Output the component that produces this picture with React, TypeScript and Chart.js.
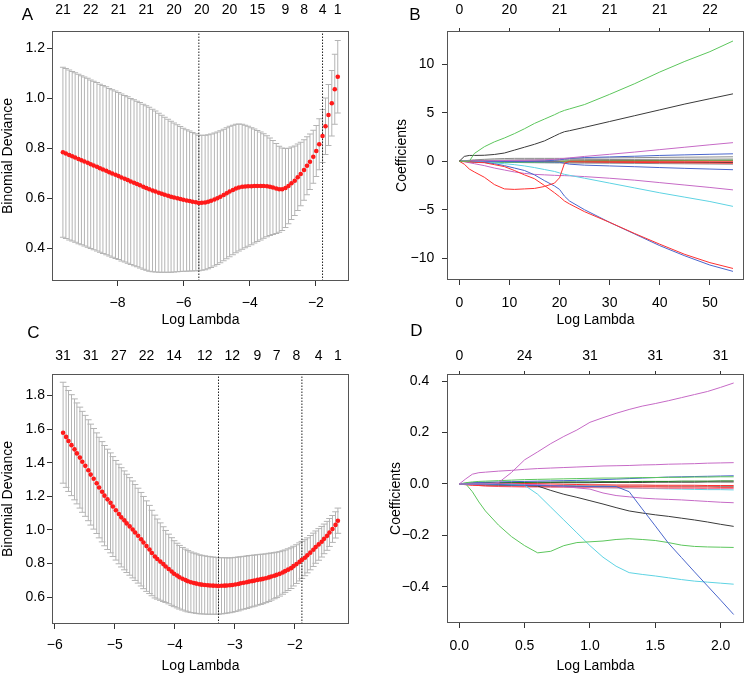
import React, { useEffect, useRef } from "react";
import { Chart, registerables } from "chart.js";

Chart.register(...registerables);

const FONT = "'Liberation Sans', Arial, Helvetica, sans-serif";
Chart.defaults.font.family = FONT;
Chart.defaults.color = "#000";

// ================= Panel A: CV binomial deviance =================
const A_LOG_LAMBDA = [
  -9.65, -9.56, -9.46, -9.37, -9.28, -9.18, -9.09, -9.0, -8.9, -8.81,
  -8.72, -8.62, -8.53, -8.44, -8.34, -8.25, -8.16, -8.06, -7.97, -7.88,
  -7.78, -7.69, -7.6, -7.5, -7.41, -7.32, -7.22, -7.13, -7.04, -6.94,
  -6.85, -6.75, -6.66, -6.57, -6.47, -6.38, -6.29, -6.19, -6.1, -6.01,
  -5.91, -5.82, -5.73, -5.63, -5.54, -5.45, -5.35, -5.26, -5.17, -5.07,
  -4.98, -4.89, -4.79, -4.7, -4.61, -4.51, -4.42, -4.33, -4.23, -4.14,
  -4.05, -3.95, -3.86, -3.77, -3.67, -3.58, -3.48, -3.39, -3.3, -3.2,
  -3.11, -3.02, -2.92, -2.83, -2.74, -2.64, -2.55, -2.46, -2.36, -2.27,
  -2.18, -2.08, -1.99, -1.9, -1.8, -1.71, -1.62, -1.52, -1.43, -1.34,
];
const A_CVM = [
  0.783, 0.778, 0.772, 0.767, 0.762, 0.756, 0.751, 0.746, 0.741, 0.735,
  0.73, 0.725, 0.719, 0.714, 0.709, 0.703, 0.698, 0.693, 0.688, 0.682,
  0.677, 0.672, 0.666, 0.661, 0.656, 0.651, 0.645, 0.64, 0.635, 0.63,
  0.626, 0.621, 0.617, 0.613, 0.609, 0.605, 0.602, 0.599, 0.596, 0.593,
  0.59, 0.588, 0.585, 0.583, 0.58, 0.581, 0.582, 0.585, 0.589, 0.594,
  0.599, 0.605, 0.612, 0.619, 0.626, 0.632, 0.638, 0.642, 0.645, 0.646,
  0.647, 0.647, 0.648, 0.648, 0.648, 0.648, 0.647, 0.645, 0.642, 0.638,
  0.635, 0.635, 0.64, 0.648, 0.659, 0.669, 0.683, 0.696, 0.712, 0.729,
  0.745, 0.765, 0.788, 0.815, 0.848, 0.887, 0.932, 0.979, 1.035, 1.085,
];
const A_CVSD = [
  0.34, 0.34, 0.34, 0.339, 0.339, 0.339, 0.338, 0.338, 0.338, 0.337,
  0.337, 0.337, 0.336, 0.336, 0.336, 0.335, 0.335, 0.335, 0.334, 0.334,
  0.333, 0.333, 0.332, 0.332, 0.331, 0.331, 0.33, 0.329, 0.328, 0.325,
  0.322, 0.318, 0.314, 0.31, 0.306, 0.302, 0.298, 0.294, 0.29, 0.286,
  0.283, 0.28, 0.277, 0.274, 0.271, 0.27, 0.269, 0.268, 0.267, 0.266,
  0.265, 0.264, 0.263, 0.262, 0.261, 0.259, 0.257, 0.254, 0.25, 0.245,
  0.24, 0.234, 0.228, 0.222, 0.216, 0.209, 0.202, 0.195, 0.188, 0.18,
  0.172, 0.165, 0.158, 0.151, 0.145, 0.139, 0.133, 0.127, 0.121, 0.116,
  0.111, 0.106, 0.102, 0.102, 0.106, 0.113, 0.122, 0.131, 0.14, 0.145,
];
const A_LAMBDA_MIN = -5.54;
const A_LAMBDA_1SE = -1.8;
const A_TOP_AT = [-9.65, -8.81, -7.97, -7.13, -6.29, -5.45, -4.61, -3.77, -2.92, -2.36, -1.8, -1.34];
const A_TOP_LABELS = ["21", "22", "21", "21", "20", "20", "20", "15", "9", "8", "4", "1"];
const A_X_TICKS = [-8, -6, -4, -2];
const A_Y_TICKS = [0.4, 0.6, 0.8, 1.0, 1.2];

// ================= Panel C: CV binomial deviance =================
const C_LOG_LAMBDA = [
  -5.86, -5.81, -5.77, -5.72, -5.67, -5.63, -5.58, -5.54, -5.49, -5.44,
  -5.4, -5.35, -5.3, -5.26, -5.21, -5.17, -5.12, -5.07, -5.03, -4.98,
  -4.93, -4.89, -4.84, -4.8, -4.75, -4.7, -4.66, -4.61, -4.56, -4.52,
  -4.47, -4.42, -4.38, -4.33, -4.29, -4.24, -4.19, -4.15, -4.1, -4.05,
  -4.01, -3.96, -3.92, -3.87, -3.82, -3.78, -3.73, -3.68, -3.64, -3.59,
  -3.55, -3.5, -3.45, -3.41, -3.36, -3.31, -3.27, -3.22, -3.17, -3.13,
  -3.08, -3.04, -2.99, -2.94, -2.9, -2.85, -2.8, -2.76, -2.71, -2.67,
  -2.62, -2.57, -2.53, -2.48, -2.43, -2.39, -2.34, -2.3, -2.25, -2.2,
  -2.16, -2.11, -2.06, -2.02, -1.97, -1.92, -1.88, -1.83, -1.79, -1.74,
  -1.69, -1.65, -1.6, -1.55, -1.51, -1.46, -1.42, -1.37, -1.32, -1.28,
];
const C_CVM = [
  1.578, 1.553, 1.529, 1.504, 1.479, 1.455, 1.43, 1.405, 1.381, 1.355,
  1.329, 1.304, 1.278, 1.252, 1.227, 1.204, 1.182, 1.161, 1.139, 1.117,
  1.095, 1.075, 1.057, 1.039, 1.021, 1.003, 0.985, 0.966, 0.945, 0.925,
  0.904, 0.884, 0.863, 0.842, 0.827, 0.812, 0.797, 0.783, 0.768, 0.753,
  0.74, 0.729, 0.719, 0.71, 0.702, 0.695, 0.689, 0.685, 0.681, 0.677,
  0.675, 0.673, 0.671, 0.67, 0.669, 0.668, 0.667, 0.668, 0.669, 0.67,
  0.671, 0.673, 0.676, 0.679, 0.683, 0.686, 0.689, 0.693, 0.696, 0.699,
  0.703, 0.706, 0.709, 0.713, 0.718, 0.723, 0.728, 0.733, 0.739, 0.747,
  0.755, 0.764, 0.773, 0.785, 0.797, 0.81, 0.822, 0.835, 0.849, 0.865,
  0.882, 0.898, 0.914, 0.93, 0.947, 0.965, 0.985, 1.006, 1.03, 1.055,
];
const C_CVSD = [
  0.3, 0.3, 0.3, 0.3, 0.3, 0.3, 0.3, 0.3, 0.3, 0.3,
  0.3, 0.299, 0.299, 0.299, 0.298, 0.298, 0.298, 0.297, 0.297, 0.296,
  0.296, 0.295, 0.294, 0.292, 0.29, 0.288, 0.285, 0.282, 0.278, 0.274,
  0.269, 0.262, 0.254, 0.246, 0.238, 0.23, 0.222, 0.214, 0.207, 0.201,
  0.196, 0.192, 0.189, 0.186, 0.184, 0.182, 0.18, 0.178, 0.177, 0.175,
  0.174, 0.173, 0.172, 0.171, 0.17, 0.169, 0.168, 0.167, 0.166, 0.164,
  0.163, 0.162, 0.161, 0.16, 0.158, 0.157, 0.156, 0.155, 0.153, 0.152,
  0.15, 0.149, 0.147, 0.145, 0.143, 0.14, 0.137, 0.135, 0.132, 0.129,
  0.126, 0.124, 0.121, 0.118, 0.115, 0.113, 0.11, 0.107, 0.104, 0.102,
  0.099, 0.096, 0.094, 0.091, 0.088, 0.086, 0.083, 0.08, 0.078, 0.075,
];
const C_LAMBDA_MIN = -3.27;
const C_LAMBDA_1SE = -1.88;
const C_TOP_AT = [-5.86, -5.4, -4.93, -4.47, -4.01, -3.5, -3.04, -2.62, -2.3, -1.97, -1.6, -1.28];
const C_TOP_LABELS = ["31", "31", "27", "22", "14", "12", "12", "9", "7", "8", "4", "1"];
const C_X_TICKS = [-6, -5, -4, -3, -2];
const C_Y_TICKS = [0.6, 0.8, 1.0, 1.2, 1.4, 1.6, 1.8];

// ================= Panel B: coefficient paths =================
const B_X = [0, 1, 2, 3, 5, 7, 9, 11, 13, 15, 17, 19, 20, 21, 22, 25, 30, 35, 40, 45, 50, 54.6];
const B_GREEN = [0, 0, 0, 0.8, 1.5, 2.0, 2.4, 2.85, 3.35, 3.9, 4.35, 4.8, 5.05, 5.25, 5.4, 5.85, 6.9, 8.0, 9.2, 10.3, 11.3, 12.4];
const B_BLACK = [0, 0.5, 0.6, 0.6, 0.62, 0.7, 0.85, 1.15, 1.45, 1.75, 2.1, 2.6, 2.85, 3.05, 3.15, 3.5, 4.1, 4.7, 5.3, 5.9, 6.45, 6.95];
const B_RED_LOOP = [0, -0.3, -0.8, -1.1, -1.65, -2.4, -2.85, -2.9, -2.85, -2.8, -2.6, -2.25, -1.7, -0.2, 0, 0, 0, 0, 0, 0, 0, 0];
const B_RED_DOWN = [0, -0.03, -0.06, -0.1, -0.15, -0.35, -0.55, -0.95, -1.4, -1.8, -2.5, -3.25, -3.65, -4.1, -4.4, -5.2, -6.3, -7.45, -8.55, -9.6, -10.45, -11.05];
const B_BLUE_DOWN = [0, -0.02, -0.05, -0.08, -0.12, -0.25, -0.45, -0.7, -0.95, -1.4, -2.0, -2.55, -2.9, -3.6, -4.1, -5.0, -6.3, -7.5, -8.7, -9.75, -10.7, -11.35];
const B_CYAN = [0, 0, -0.02, -0.05, -0.1, -0.17, -0.25, -0.35, -0.48, -0.65, -0.85, -1.05, -1.2, -1.35, -1.45, -1.75, -2.25, -2.75, -3.25, -3.7, -4.15, -4.65];
const B_MAGENTA_LOW = [0, -0.05, -0.15, -0.25, -0.45, -0.7, -0.9, -1.1, -1.25, -1.35, -1.4, -1.45, -1.47, -1.48, -1.5, -1.58, -1.75, -1.95, -2.2, -2.45, -2.7, -2.95];
const B_MAGENTA_UP = [0, 0.02, 0.03, 0.04, 0.05, 0.06, 0.08, 0.09, 0.1, 0.12, 0.15, 0.2, 0.25, 0.3, 0.35, 0.5, 0.72, 0.95, 1.2, 1.45, 1.7, 1.92];
const B_BLUE_UP = [0, 0, 0, 0, 0, 0, 0, 0, 0, 0.02, 0.05, 0.1, 0.15, 0.22, 0.3, 0.38, 0.45, 0.52, 0.6, 0.66, 0.72, 0.77];
const B_BLUE_LOW = [0, 0, 0, 0, -0.02, -0.03, -0.04, -0.05, -0.05, -0.05, -0.06, -0.08, -0.1, -0.2, -0.3, -0.4, -0.48, -0.56, -0.65, -0.73, -0.8, -0.87];
const B_GRAY_1 = [0, 0.05, 0.1, 0.15, 0.2, 0.25, 0.28, 0.3, 0.3, 0.3, 0.3, 0.3, 0.3, 0.3, 0.3, 0.32, 0.35, 0.37, 0.4, 0.42, 0.44, 0.46];
const B_GRAY_2 = [0, 0.03, 0.06, 0.08, 0.1, 0.12, 0.13, 0.14, 0.15, 0.15, 0.15, 0.16, 0.16, 0.16, 0.16, 0.17, 0.18, 0.19, 0.2, 0.21, 0.22, 0.23];
const B_GRAY_3 = [0, 0, -0.02, -0.04, -0.06, -0.08, -0.1, -0.12, -0.14, -0.15, -0.16, -0.17, -0.17, -0.18, -0.18, -0.19, -0.2, -0.22, -0.24, -0.26, -0.28, -0.3];
const B_BLACK_2 = [0, 0, 0, 0, 0, 0, -0.02, -0.05, -0.05, -0.05, -0.05, -0.05, -0.05, -0.05, -0.06, -0.07, -0.08, -0.09, -0.1, -0.11, -0.12, -0.13];
const B_DARKGREEN = [0, 0, 0, 0, 0, 0, 0, 0, 0, 0, 0, 0, 0, 0.02, 0.03, 0.04, 0.05, 0.06, 0.07, 0.08, 0.09, 0.1];
const B_RED_2 = [0, 0, 0, 0, 0, 0, 0, 0, 0, 0, 0, 0, 0, -0.02, -0.05, -0.07, -0.1, -0.12, -0.14, -0.16, -0.18, -0.2];
const B_GREEN_2 = [0, 0, -0.05, -0.08, -0.1, -0.12, -0.12, -0.12, -0.12, -0.12, -0.1, -0.08, -0.06, -0.05, -0.04, -0.02, 0, 0.02, 0.04, 0.06, 0.08, 0.1];
const B_TOP_AT = [0, 10, 20, 30, 40, 50];
const B_TOP_LABELS = ["0", "20", "21", "21", "21", "22"];
const B_X_TICKS = [0, 10, 20, 30, 40, 50];
const B_Y_TICKS = [-10, -5, 0, 5, 10];

// ================= Panel D: coefficient paths =================
const D_X = [0, 0.05, 0.1, 0.15, 0.2, 0.3, 0.4, 0.5, 0.6, 0.7, 0.8, 0.9, 1.0, 1.1, 1.2, 1.3, 1.4, 1.5, 1.6, 1.7, 1.8, 1.9, 2.0, 2.1];
const D_MAGENTA_TOP = [0, 0, 0, 0, 0, 0.005, 0.045, 0.094, 0.125, 0.157, 0.185, 0.21, 0.24, 0.258, 0.275, 0.29, 0.303, 0.313, 0.324, 0.336, 0.348, 0.36, 0.376, 0.393];
const D_MAGENTA_2 = [0, 0.02, 0.038, 0.044, 0.046, 0.05, 0.053, 0.057, 0.06, 0.062, 0.064, 0.066, 0.068, 0.07, 0.071, 0.072, 0.074, 0.075, 0.077, 0.078, 0.079, 0.081, 0.082, 0.083];
const D_GREEN_LOW = [0, 0, -0.03, -0.07, -0.105, -0.16, -0.205, -0.24, -0.268, -0.262, -0.24, -0.228, -0.225, -0.222, -0.216, -0.213, -0.216, -0.22, -0.228, -0.238, -0.243, -0.245, -0.246, -0.247];
const D_CYAN = [0, 0, 0, 0, 0, -0.002, -0.003, -0.005, -0.04, -0.09, -0.14, -0.19, -0.24, -0.285, -0.32, -0.345, -0.352, -0.358, -0.365, -0.372, -0.378, -0.382, -0.386, -0.39];
const D_BLACK = [0, 0, 0, -0.002, -0.003, -0.004, -0.005, -0.006, -0.008, -0.025, -0.04, -0.052, -0.065, -0.078, -0.092, -0.105, -0.113, -0.12, -0.126, -0.133, -0.14, -0.148, -0.157, -0.165];
const D_BLUE_DIAG = [0, 0, 0, 0, 0, -0.002, -0.004, -0.005, -0.006, -0.007, -0.008, -0.009, -0.01, -0.01, -0.01, -0.03, -0.097, -0.163, -0.23, -0.286, -0.342, -0.397, -0.452, -0.508];
const D_MAGENTA_LOW = [0, 0, 0, 0, 0, 0, 0, -0.002, -0.002, -0.005, -0.01, -0.015, -0.02, -0.035, -0.045, -0.05, -0.055, -0.058, -0.06, -0.062, -0.065, -0.068, -0.071, -0.073];
const D_GREEN_1 = [0, 0.005, 0.008, 0.01, 0.011, 0.013, 0.015, 0.017, 0.018, 0.019, 0.02, 0.021, 0.022, 0.023, 0.023, 0.024, 0.025, 0.025, 0.026, 0.026, 0.027, 0.027, 0.028, 0.028];
const D_BLUE_1 = [0, 0.003, 0.005, 0.006, 0.007, 0.008, 0.009, 0.01, 0.011, 0.012, 0.013, 0.014, 0.015, 0.017, 0.019, 0.021, 0.023, 0.025, 0.027, 0.028, 0.029, 0.03, 0.031, 0.032];
const D_DARKGREEN = [0, 0.002, 0.003, 0.004, 0.005, 0.005, 0.006, 0.006, 0.007, 0.007, 0.008, 0.008, 0.008, 0.009, 0.009, 0.009, 0.01, 0.01, 0.01, 0.011, 0.011, 0.011, 0.012, 0.012];
const D_RED_1 = [0, -0.003, -0.005, -0.006, -0.007, -0.008, -0.008, -0.009, -0.009, -0.009, -0.01, -0.01, -0.01, -0.01, -0.011, -0.011, -0.011, -0.011, -0.012, -0.012, -0.012, -0.012, -0.013, -0.013];
const D_PINK = [0, -0.002, -0.004, -0.006, -0.008, -0.01, -0.011, -0.012, -0.012, -0.013, -0.013, -0.014, -0.014, -0.015, -0.015, -0.015, -0.016, -0.016, -0.017, -0.017, -0.017, -0.018, -0.018, -0.018];
const D_CYAN_2 = [0, 0, 0, 0, 0, -0.002, -0.004, -0.006, -0.008, -0.01, -0.011, -0.012, -0.013, -0.014, -0.015, -0.016, -0.017, -0.018, -0.019, -0.02, -0.021, -0.022, -0.022, -0.023];
const D_BLACK_2 = [0, 0.001, 0.002, 0.002, 0.003, 0.003, 0.004, 0.004, 0.004, 0.005, 0.005, 0.005, 0.005, 0.006, 0.006, 0.006, 0.006, 0.007, 0.007, 0.007, 0.007, 0.008, 0.008, 0.008];
const D_GRAY = [0, 0, 0, -0.001, -0.002, -0.003, -0.004, -0.005, -0.005, -0.006, -0.006, -0.007, -0.007, -0.007, -0.008, -0.008, -0.008, -0.008, -0.009, -0.009, -0.009, -0.009, -0.01, -0.01];
const D_RED_2 = [0, 0.002, 0.003, 0.004, 0.004, 0.004, 0.003, 0.002, 0.001, 0, -0.001, -0.002, -0.003, -0.003, -0.004, -0.004, -0.004, -0.005, -0.005, -0.005, -0.005, -0.006, -0.006, -0.006];
const D_TOP_AT = [0, 0.5, 1.0, 1.5, 2.0];
const D_TOP_LABELS = ["0", "24", "31", "31", "31"];
const D_X_TICKS = [0, 0.5, 1.0, 1.5, 2.0];
const D_Y_TICKS = [-0.4, -0.2, 0, 0.2, 0.4];

// ================= colours =================
const COL = {
  black: "#3a3a3a",
  red: "#ff3030",
  green: "#5cc65c",
  blue: "#4a66cc",
  cyan: "#5ed3e3",
  magenta: "#c66ac6",
  gray: "#8c8c8c",
  darkgreen: "#1e7a1e",
  pink: "#f07090",
};

const minus = (s: string) => s.replace("-", "\u2212");

const boxPlugin = {
  id: "rbox",
  afterDraw(chart: any) {
    const { ctx, chartArea: a } = chart;
    ctx.save();
    ctx.strokeStyle = "#555";
    ctx.lineWidth = 1;
    const l = Math.round(a.left) + 0.5;
    const t = Math.round(a.top) + 0.5;
    const r = Math.round(a.right) - 0.5;
    const b = Math.round(a.bottom) - 0.5;
    ctx.strokeRect(l, t, r - l, b - t);
    ctx.restore();
  },
};

function errorBarData(xs: number[], mid: number[], sd: number[], cap: number) {
  const pts: { x: number; y: number | null }[] = [];
  xs.forEach((x, i) => {
    const hi = mid[i] + sd[i];
    const lo = mid[i] - sd[i];
    pts.push({ x, y: lo }, { x, y: hi }, { x, y: null });
    pts.push({ x: x - cap, y: hi }, { x: x + cap, y: hi }, { x, y: null });
    pts.push({ x: x - cap, y: lo }, { x: x + cap, y: lo }, { x, y: null });
  });
  return pts;
}

function cvDatasets(xs: number[], mid: number[], sd: number[], cap: number, vlines: number[], yMin: number, yMax: number) {
  const ds: any[] = [
    {
      data: xs.map((x, i) => ({ x, y: mid[i] })),
      showLine: false,
      pointRadius: 2.3,
      pointBackgroundColor: "#ff1a1a",
      pointBorderWidth: 0,
      order: 0,
    },
    {
      data: errorBarData(xs, mid, sd, cap),
      borderColor: "#b4b4b4",
      borderWidth: 1,
      pointRadius: 0,
      spanGaps: false,
      order: 2,
    },
  ];
  vlines.forEach((v) => {
    ds.push({
      data: [
        { x: v, y: yMin },
        { x: v, y: yMax },
      ],
      borderColor: "#222",
      borderWidth: 1,
      borderDash: [1.5, 1.5],
      pointRadius: 0,
      order: 1,
    });
  });
  return ds;
}

function pathDatasets(xs: number[], series: { v: number[]; c: string }[]) {
  return series.map((s, k) => ({
    data: xs.map((x, i) => ({ x, y: s.v[i] })),
    borderColor: s.c,
    borderWidth: 1,
    pointRadius: 0,
    order: series.length - k,
  }));
}

type Geo = { left: number; top: number; w: number; h: number; axL: number; padR: number; axT: number; axB: number };
type Ax = { min: number; max: number; ticks: number[]; fmt: (v: number) => string; pad: number; title: string; titlePad: number };
type Top = { at: number[]; labels: string[]; tick: number; pad: number };

function buildConfig(geo: Geo, xa: Ax, ya: Ax, top: Top, datasets: any[]) {
  const setTicks = (vals: number[]) => (s: any) => {
    s.ticks = vals.map((v) => ({ value: v }));
  };
  const tickGrid = (len: number) => ({
    display: len > 0,
    drawOnChartArea: false,
    drawTicks: len > 0,
    tickLength: len,
    color: "#333",
    tickColor: "#333",
    lineWidth: 1,
  });
  return {
    type: "line",
    data: { datasets },
    options: {
      responsive: false,
      animation: false,
      devicePixelRatio: 1,
      events: [],
      layout: { padding: { left: 0, right: geo.padR, top: 0, bottom: 0 } },
      plugins: { legend: { display: false }, tooltip: { enabled: false } },
      scales: {
        x: {
          type: "linear",
          position: "bottom",
          bounds: "data",
          min: xa.min,
          max: xa.max,
          afterBuildTicks: setTicks(xa.ticks),
          afterFit: (s: any) => {
            s.height = geo.axB;
          },
          ticks: { autoSkip: false, maxRotation: 0, padding: xa.pad, font: { size: 14 }, color: "#000", callback: (v: any) => xa.fmt(Number(v)) },
          grid: tickGrid(5),
          border: { display: false },
          title: { display: true, text: xa.title, font: { size: 14 }, color: "#000", padding: { top: 0, bottom: xa.titlePad } },
        },
        x2: {
          type: "linear",
          position: "top",
          bounds: "data",
          min: xa.min,
          max: xa.max,
          afterBuildTicks: setTicks(top.at),
          afterFit: (s: any) => {
            s.height = geo.axT;
          },
          ticks: { autoSkip: false, maxRotation: 0, padding: top.pad, font: { size: 14 }, color: "#000", callback: (_v: any, i: number) => top.labels[i] },
          grid: tickGrid(top.tick),
          border: { display: false },
        },
        y: {
          type: "linear",
          position: "left",
          bounds: "data",
          min: ya.min,
          max: ya.max,
          afterBuildTicks: setTicks(ya.ticks),
          afterFit: (s: any) => {
            s.width = geo.axL;
          },
          ticks: { autoSkip: false, padding: ya.pad, font: { size: 14 }, color: "#000", callback: (v: any) => ya.fmt(Number(v)) },
          grid: tickGrid(5),
          border: { display: false },
          title: { display: true, text: ya.title, font: { size: 14 }, color: "#000", padding: { top: ya.titlePad, bottom: 0 } },
        },
      },
    },
    plugins: [boxPlugin],
  };
}

function Panel({ geo, config }: { geo: Geo; config: any }) {
  const ref = useRef<HTMLCanvasElement>(null);
  useEffect(() => {
    const chart = new Chart(ref.current as HTMLCanvasElement, config);
    return () => chart.destroy();
  }, []);
  return (
    <canvas
      ref={ref}
      width={geo.w}
      height={geo.h}
      style={{ position: "absolute", left: geo.left, top: geo.top, width: geo.w, height: geo.h }}
    />
  );
}

const fmtInt = (v: number) => minus(String(Math.round(v)));
const fmt1 = (v: number) => minus((Math.abs(v) < 1e-9 ? 0 : v).toFixed(1));

// geometry
const GEO_A: Geo = { left: 0, top: 0, w: 374, h: 337, axL: 52, padR: 25, axT: 31, axB: 56 };
const GEO_B: Geo = { left: 374, top: 0, w: 374, h: 337, axL: 73, padR: 4, axT: 31, axB: 57 };
const GEO_C: Geo = { left: 0, top: 337, w: 374, h: 338, axL: 52, padR: 25, axT: 37, axB: 51 };
const GEO_D: Geo = { left: 374, top: 337, w: 374, h: 338, axL: 73, padR: 4, axT: 37, axB: 52 };

const A_YMIN = 0.268, A_YMAX = 1.268;
const C_YMIN = 0.441, C_YMAX = 1.927;

const CONFIG_A = buildConfig(
  GEO_A,
  { min: -9.98, max: -1.0, ticks: A_X_TICKS, fmt: fmtInt, pad: 9, title: "Log Lambda", titlePad: 8.6 },
  { min: A_YMIN, max: A_YMAX, ticks: A_Y_TICKS, fmt: fmt1, pad: 2, title: "Binomial Deviance", titlePad: 0 },
  { at: A_TOP_AT, labels: A_TOP_LABELS, tick: 0, pad: 12.6 },
  cvDatasets(A_LOG_LAMBDA, A_CVM, A_CVSD, 0.09, [A_LAMBDA_MIN, A_LAMBDA_1SE], A_YMIN, A_YMAX)
);

const CONFIG_C = buildConfig(
  GEO_C,
  { min: -6.045, max: -1.095, ticks: C_X_TICKS, fmt: fmtInt, pad: 7.6, title: "Log Lambda", titlePad: 0 },
  { min: C_YMIN, max: C_YMAX, ticks: C_Y_TICKS, fmt: fmt1, pad: 2, title: "Binomial Deviance", titlePad: 0 },
  { at: C_TOP_AT, labels: C_TOP_LABELS, tick: 0, pad: 9.2 },
  cvDatasets(C_LOG_LAMBDA, C_CVM, C_CVSD, 0.055, [C_LAMBDA_MIN, C_LAMBDA_1SE], C_YMIN, C_YMAX)
);

const CONFIG_B = buildConfig(
  GEO_B,
  { min: -2.45, max: 56.8, ticks: B_X_TICKS, fmt: fmtInt, pad: 10, title: "Log Lambda", titlePad: 8.6 },
  { min: -12.24, max: 13.43, ticks: B_Y_TICKS, fmt: fmtInt, pad: 7.7, title: "Coefficients", titlePad: 20 },
  { at: B_TOP_AT, labels: B_TOP_LABELS, tick: 3, pad: 9.6 },
  pathDatasets(B_X, [
    { v: B_GRAY_1, c: COL.gray },
    { v: B_GRAY_2, c: COL.gray },
    { v: B_GRAY_3, c: COL.gray },
    { v: B_BLACK_2, c: COL.black },
    { v: B_DARKGREEN, c: COL.darkgreen },
    { v: B_RED_2, c: COL.red },
    { v: B_GREEN_2, c: COL.green },
    { v: B_BLUE_UP, c: COL.blue },
    { v: B_BLUE_LOW, c: COL.blue },
    { v: B_MAGENTA_UP, c: COL.magenta },
    { v: B_MAGENTA_LOW, c: COL.magenta },
    { v: B_CYAN, c: COL.cyan },
    { v: B_BLUE_DOWN, c: COL.blue },
    { v: B_RED_DOWN, c: COL.red },
    { v: B_RED_LOOP, c: COL.red },
    { v: B_BLACK, c: COL.black },
    { v: B_GREEN, c: COL.green },
  ])
);

const CONFIG_D = buildConfig(
  GEO_D,
  { min: -0.094, max: 2.179, ticks: D_X_TICKS, fmt: fmt1, pad: 10, title: "Log Lambda", titlePad: 0 },
  { min: -0.541, max: 0.428, ticks: D_Y_TICKS, fmt: fmt1, pad: 12.7, title: "Coefficients", titlePad: 13.3 },
  { at: D_TOP_AT, labels: D_TOP_LABELS, tick: 3, pad: 6.2 },
  pathDatasets(D_X, [
    { v: D_GRAY, c: COL.gray },
    { v: D_BLACK_2, c: COL.black },
    { v: D_CYAN_2, c: COL.cyan },
    { v: D_PINK, c: COL.pink },
    { v: D_RED_2, c: COL.red },
    { v: D_RED_1, c: COL.red },
    { v: D_DARKGREEN, c: COL.darkgreen },
    { v: D_BLUE_1, c: COL.blue },
    { v: D_GREEN_1, c: COL.green },
    { v: D_MAGENTA_LOW, c: COL.magenta },
    { v: D_BLACK, c: COL.black },
    { v: D_CYAN, c: COL.cyan },
    { v: D_GREEN_LOW, c: COL.green },
    { v: D_BLUE_DIAG, c: COL.blue },
    { v: D_MAGENTA_2, c: COL.magenta },
    { v: D_MAGENTA_TOP, c: COL.magenta },
  ])
);

const LETTERS = [
  { t: "A", x: 27.5, y: 14.5 },
  { t: "B", x: 415, y: 14.5 },
  { t: "C", x: 33.3, y: 331.7 },
  { t: "D", x: 416.5, y: 330.5 },
];

export default function App() {
  return (
    <div style={{ position: "absolute", left: 0, top: 0, width: 748, height: 675, background: "#fff", fontFamily: FONT }}>
      <Panel geo={GEO_A} config={CONFIG_A} />
      <Panel geo={GEO_B} config={CONFIG_B} />
      <Panel geo={GEO_C} config={CONFIG_C} />
      <Panel geo={GEO_D} config={CONFIG_D} />
      {LETTERS.map((l) => (
        <div
          key={l.t}
          style={{
            position: "absolute",
            left: l.x - 10,
            top: l.y - 8.2,
            width: 20,
            textAlign: "center",
            fontSize: 17,
            lineHeight: "17px",
            color: "#000",
          }}
        >
          {l.t}
        </div>
      ))}
    </div>
  );
}
